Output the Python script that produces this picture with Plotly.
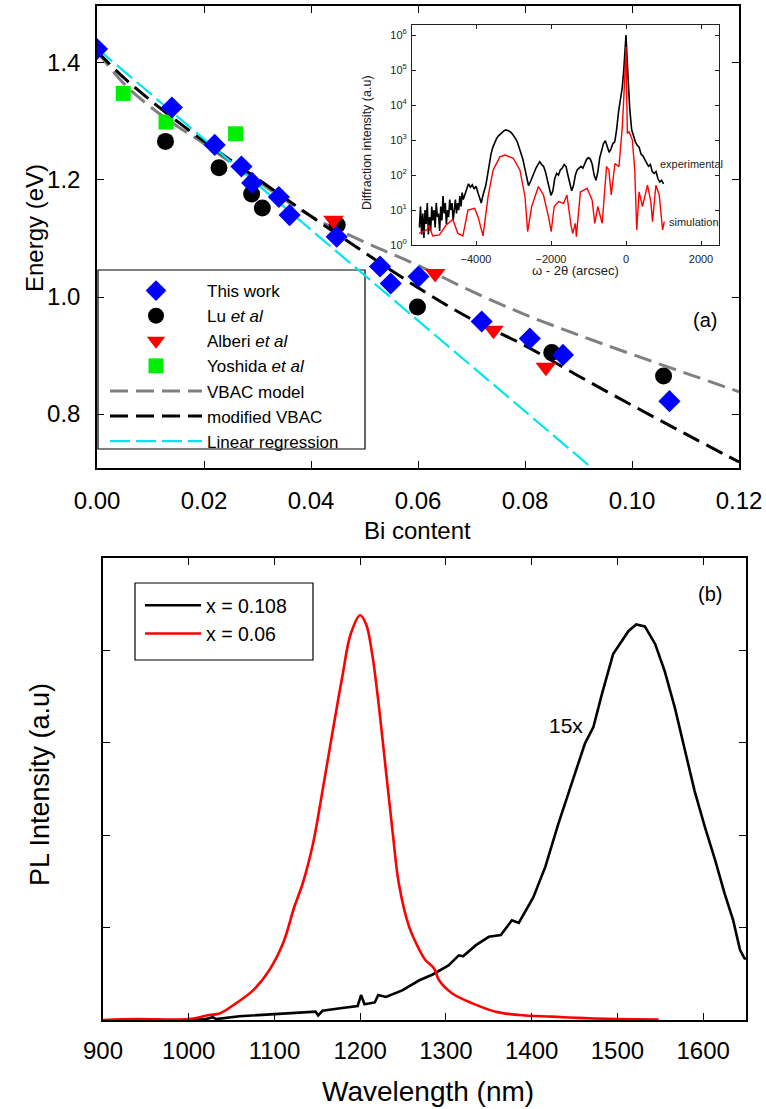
import plotly.graph_objects as go

W, H = 766, 1109
FONT = "Liberation Sans, Arial, Helvetica, sans-serif"

# ---------------- Panel (a): band gap vs Bi content ----------------
this_x = [0.000, 0.014, 0.022, 0.027, 0.029, 0.034, 0.036, 0.0448, 0.0529, 0.0549, 0.0601, 0.0719, 0.0809, 0.0871, 0.1070]
this_y = [1.424, 1.324, 1.260, 1.223, 1.195, 1.171, 1.140, 1.103, 1.052, 1.023, 1.035, 0.958, 0.929, 0.901, 0.822]
lu_x = [0.0128, 0.0228, 0.0289, 0.0309, 0.0449, 0.0599, 0.0850, 0.1059]
lu_y = [1.266, 1.221, 1.176, 1.152, 1.123, 0.983, 0.905, 0.865]
alb_x = [0.0442, 0.0632, 0.0741, 0.0839]
alb_y = [1.131, 1.040, 0.943, 0.880]
yos_x = [0.0049, 0.0129, 0.0259]
yos_y = [1.348, 1.299, 1.279]

vbac_x = [0.0, 0.005, 0.01, 0.015, 0.02, 0.03, 0.04, 0.05, 0.06, 0.07, 0.08, 0.09, 0.10, 0.11, 0.12]
vbac_y = [1.420, 1.365, 1.325, 1.292, 1.262, 1.198, 1.138, 1.094, 1.054, 1.010, 0.970, 0.935, 0.902, 0.870, 0.838]
mvbac_x = [0.0, 0.005, 0.01, 0.02, 0.03, 0.04, 0.05, 0.06, 0.07, 0.08, 0.09, 0.10, 0.11, 0.12]
mvbac_y = [1.420, 1.375, 1.336, 1.266, 1.202, 1.138, 1.076, 1.016, 0.962, 0.917, 0.865, 0.815, 0.766, 0.718]
lin_x = [0.0, 0.0925]
lin_y = [1.425, 0.7077]

a_xticks = [0.00, 0.02, 0.04, 0.06, 0.08, 0.10, 0.12]
a_yticks = [0.8, 1.0, 1.2, 1.4]

# ---------------- Inset: XRD rocking curve (log10 of intensity) ----------------
exp_x = [-5510, -5480, -5450, -5420, -5390, -5360, -5330, -5300, -5270, -5240, -5210, -5180, -5150, -5120,
         -5090, -5060, -5030, -5000, -4970, -4940, -4910, -4880, -4850, -4820, -4790, -4760, -4730, -4700,
         -4670, -4640, -4610, -4580, -4550, -4520, -4490, -4460, -4430, -4400, -4370, -4340,
         -4300, -4250, -4200, -4150, -4100, -4050, -4000, -3950, -3900, -3860, -3820, -3780, -3740, -3700,
         -3650, -3600, -3550, -3500, -3450, -3400, -3350, -3300, -3250, -3200, -3150, -3100, -3050, -3000,
         -2950, -2900, -2850, -2800, -2750, -2700, -2650, -2600, -2560, -2500, -2450, -2400, -2350, -2300,
         -2250, -2200, -2150, -2100, -2050, -2000, -1950, -1900, -1850, -1800, -1750, -1700, -1650, -1600,
         -1550, -1500, -1450, -1400, -1350, -1300, -1250, -1200, -1150, -1100, -1050, -1000, -950, -900,
         -850, -800, -750, -700, -650, -600, -550, -500, -450, -400, -350, -300, -250, -200, -150, -100,
         -60, -30, 0, 30, 60, 100, 150, 200, 250, 300, 350, 400, 450, 500, 550, 600, 650, 700, 750, 800,
         850, 900, 950, 1000]
exp_log = [0.5, 1.1, 0.3, 0.9, 0.2, 1.0, 0.6, 1.2, 0.3, 0.8, 0.4, 1.1, 0.7, 1.0,
           0.5, 1.2, 0.8, 0.9, 0.4, 1.1, 0.7, 1.4, 0.9, 1.2, 0.6, 1.0, 0.8, 1.3,
           1.0, 1.2, 0.7, 1.1, 1.3, 0.9, 1.2, 1.0, 1.4, 1.1, 1.5, 1.3,
           1.45, 1.6, 1.75, 1.65, 1.72, 1.6, 1.68, 1.5, 1.35, 1.2, 1.4, 1.55, 1.7, 1.95,
           2.3, 2.6, 2.8, 2.95, 3.05, 3.12, 3.18, 3.24, 3.27, 3.29, 3.28, 3.25, 3.2, 3.14,
           3.05, 2.95, 2.8, 2.65, 2.45, 2.2, 1.95, 1.7, 1.78, 1.95, 2.1, 2.2, 2.3, 2.38,
           2.3, 2.25, 2.1, 1.85, 1.6, 1.42, 1.55, 1.9, 2.05, 2.0, 2.15, 2.2, 2.3, 2.25,
           2.0, 1.75, 1.55, 1.7, 2.0, 2.15, 2.2, 2.25, 2.2, 2.35, 2.45, 2.5, 2.45, 2.3,
           2.0, 1.85, 2.1, 2.5, 2.75, 2.9, 2.98, 2.8, 2.65, 2.75, 2.9, 2.95, 3.3, 3.8, 4.1, 4.5,
           5.0, 5.5, 6.0, 5.3, 4.6, 3.9, 3.3, 3.1, 2.95, 2.85, 2.8, 2.6, 2.55, 2.45, 2.35, 2.25, 2.3, 2.1, 2.05, 2.1,
           1.9, 1.8, 1.85, 1.75]
sim_x = [-5513, -5290, -5260, -5155, -4976, -4797, -4618, -4484, -4350, -4215, -4036, -3947, -3813, -3678,
         -3544, -3365, -3231, -3007, -2828, -2694, -2622, -2515, -2336, -2202, -2067, -1996, -1915, -1799,
         -1665, -1575, -1468, -1423, -1351, -1324, -1217, -1038, -904, -832, -752, -636, -519, -457, -394,
         -295, -188, -98, -36, 0, 36, 81, 170, 233, 286, 349, 439, 573, 662, 707, 797, 886, 976, 1020]
sim_log = [0.33, 0.45, 0.57, 0.26, 0.29, 0.57, 0.73, 0.33, 0.26, 1.0, 1.05, 0.81, 0.26, 1.38,
           2.14, 2.52, 2.57, 2.48, 2.14, 1.38, 0.38, 1.10, 1.67, 1.43, 0.81, 0.38, 1.10, 1.24,
           1.19, 1.43, 0.57, 0.33, 0.62, 0.24, 1.52, 1.62, 1.29, 0.62, 1.10, 0.62, 2.24, 2.14, 1.43,
           2.33, 2.24, 3.38, 4.71, 5.67, 3.19, 3.24, 3.0, 2.14, 0.43, 1.52, 1.10, 1.71, 1.24, 0.67, 1.71, 1.43, 0.43, 0.67]
inset_yticks = [1, 10, 100, 1000, 10000, 100000, 1000000]
inset_yticktext = ["10<sup>0</sup>", "10<sup>1</sup>", "10<sup>2</sup>", "10<sup>3</sup>",
                   "10<sup>4</sup>", "10<sup>5</sup>", "10<sup>6</sup>"]
inset_xticks = [-4000, -2000, 0, 2000]

# ---------------- Panel (b): PL spectra ----------------
red_x = [900, 940, 1000, 1024, 1036, 1055, 1075, 1094, 1110, 1123, 1133, 1145, 1156, 1168, 1179, 1189,
         1200, 1207, 1214, 1222, 1230, 1238, 1245, 1257, 1269, 1276, 1286, 1292, 1307, 1331, 1358, 1385,
         1424, 1462, 1501, 1548]
red_y = [0.0, 0.01, 0.01, 0.054, 0.07, 0.18, 0.32, 0.54, 0.83, 1.22, 1.48, 1.91, 2.48, 3.13, 3.71, 4.18,
         4.38, 4.28, 3.96, 3.38, 2.70, 2.02, 1.48, 1.01, 0.76, 0.65, 0.56, 0.43, 0.29, 0.18, 0.09, 0.054,
         0.036, 0.02, 0.01, 0.005]
blk_x = [1000, 1020, 1028, 1032, 1059, 1090, 1117, 1148, 1151, 1156, 1179, 1197, 1201, 1205, 1217, 1221,
         1230, 1249, 1269, 1284, 1303, 1315, 1320, 1335, 1350, 1364, 1377, 1385, 1402, 1416, 1431, 1447,
         1462, 1472, 1482, 1495, 1513, 1522, 1532, 1544, 1555, 1567, 1579, 1590, 1602, 1614, 1625, 1635,
         1643, 1648, 1650]
blk_y = [0.0, 0.01, 0.03, 0.01, 0.04, 0.06, 0.07, 0.09, 0.05, 0.10, 0.13, 0.15, 0.27, 0.17, 0.19, 0.27,
         0.25, 0.32, 0.43, 0.49, 0.59, 0.70, 0.69, 0.81, 0.90, 0.92, 1.08, 1.05, 1.33, 1.66, 2.12, 2.56,
         2.99, 3.17, 3.53, 3.96, 4.21, 4.28, 4.26, 4.07, 3.78, 3.38, 2.92, 2.48, 2.09, 1.73, 1.37, 1.08,
         0.76, 0.67, 0.66]
b_xticks = [900, 1000, 1100, 1200, 1300, 1400, 1500, 1600]
b_yticks = [1, 2, 3, 4]


def px_x(p):
    return p / W


def px_y(p):
    return 1 - p / H


fig = go.Figure()

# model / fit lines (drawn beneath markers)
fig.add_trace(go.Scatter(x=vbac_x, y=vbac_y, mode="lines", name="VBAC model", legendrank=5,
                         line=dict(color="#808080", width=3, dash="18px,8px", shape="spline"),
                         xaxis="x", yaxis="y"))
fig.add_trace(go.Scatter(x=mvbac_x, y=mvbac_y, mode="lines", name="modified VBAC", legendrank=6,
                         line=dict(color="black", width=3, dash="18px,8px", shape="spline"),
                         xaxis="x", yaxis="y"))
fig.add_trace(go.Scatter(x=lin_x, y=lin_y, mode="lines", name="Linear regression", legendrank=7,
                         line=dict(color="#00e5ee", width=2.2, dash="20px,6px"),
                         xaxis="x", yaxis="y"))
# data markers
fig.add_trace(go.Scatter(x=yos_x, y=yos_y, mode="markers", name="Yoshida <i>et al</i>", legendrank=4,
                         marker=dict(symbol="square", size=15, color="#00ee00"), xaxis="x", yaxis="y"))
fig.add_trace(go.Scatter(x=lu_x, y=lu_y, mode="markers", name="Lu <i>et al</i>", legendrank=2,
                         marker=dict(symbol="circle", size=17, color="black"), xaxis="x", yaxis="y"))
fig.add_trace(go.Scatter(x=alb_x, y=alb_y, mode="markers", name="Alberi <i>et al</i>", legendrank=3,
                         marker=dict(symbol="triangle-down", size=18, color="#ff0000"), xaxis="x", yaxis="y"))
fig.add_trace(go.Scatter(x=this_x, y=this_y, mode="markers", name="This work", legendrank=1,
                         marker=dict(symbol="diamond", size=17, color="#0000ff"), xaxis="x", yaxis="y"))

# inset
fig.add_trace(go.Scatter(x=exp_x, y=[10 ** v for v in exp_log], mode="lines", showlegend=False,
                         line=dict(color="black", width=1.6), xaxis="x3", yaxis="y3"))
fig.add_trace(go.Scatter(x=sim_x, y=[10 ** v for v in sim_log], mode="lines", showlegend=False,
                         line=dict(color="#ff0000", width=1.4), xaxis="x3", yaxis="y3"))

# panel b
fig.add_trace(go.Scatter(x=blk_x, y=blk_y, mode="lines", name="x = 0.108", legend="legend2",
                         line=dict(color="black", width=2.6), xaxis="x2", yaxis="y2"))
fig.add_trace(go.Scatter(x=red_x, y=red_y, mode="lines", name="x = 0.06", legend="legend2",
                         line=dict(color="#ff0000", width=2.6, shape="spline"), xaxis="x2", yaxis="y2"))

axis_common = dict(showline=True, linecolor="black", linewidth=1.5, mirror="ticks", ticks="inside",
                   ticklen=7, tickwidth=1.3, tickcolor="black", showgrid=False, zeroline=False,
                   automargin=False)
inset_common = dict(showline=True, linecolor="#222", linewidth=1, mirror="ticks", ticks="inside",
                    ticklen=4, tickcolor="#222", showgrid=False, zeroline=False, automargin=False,
                    tickfont=dict(size=11, color="#222"))

fig.update_layout(
    width=W, height=H, autosize=False,
    margin=dict(l=0, r=0, t=0, b=0, pad=0, autoexpand=False),
    paper_bgcolor="white", plot_bgcolor="rgba(0,0,0,0)",
    font=dict(family=FONT, color="black"),
    xaxis=dict(domain=[px_x(97), px_x(739)], anchor="y", range=[0, 0.12], tickvals=a_xticks,
               tickformat=".2f", tickfont=dict(size=24), ticklabelstandoff=10, **axis_common),
    yaxis=dict(domain=[px_y(468), px_y(6)], anchor="x", range=[0.7077, 1.4974], tickvals=a_yticks,
               tickformat=".1f", tickfont=dict(size=24), ticklabelstandoff=10, **axis_common),
    xaxis2=dict(domain=[px_x(103), px_x(746)], anchor="y2", range=[900, 1650], tickvals=b_xticks,
                tickfont=dict(size=24), ticklabelstandoff=8, **axis_common),
    yaxis2=dict(domain=[px_y(1020), px_y(558)], anchor="x2", range=[0, 5], tickvals=b_yticks,
                showticklabels=False, **axis_common),
    xaxis3=dict(domain=[px_x(412), px_x(719)], anchor="y3", range=[-5707, 2480], tickvals=inset_xticks,
                ticklabelstandoff=4, **inset_common),
    yaxis3=dict(domain=[px_y(245), px_y(25)], anchor="x3", type="log", range=[0, 6.29],
                tickvals=inset_yticks, ticktext=inset_yticktext, ticklabelstandoff=2, **inset_common),
    legend=dict(x=px_x(105), y=px_y(273), xanchor="left", yanchor="top", bgcolor="rgba(0,0,0,0)",
                borderwidth=0, font=dict(size=17), itemwidth=92, tracegroupgap=0, traceorder="normal"),
    legend2=dict(x=px_x(140), y=px_y(586), xanchor="left", yanchor="top", bgcolor="rgba(0,0,0,0)",
                 borderwidth=0, font=dict(size=19.5), itemwidth=56),
)

shapes = [
    # legend frames
    dict(type="rect", xref="paper", yref="paper", x0=px_x(98), x1=px_x(365), y0=px_y(449), y1=px_y(270),
         line=dict(color="black", width=1.2), fillcolor="white", layer="below"),
    dict(type="rect", xref="paper", yref="paper", x0=px_x(135), x1=px_x(313), y0=px_y(660), y1=px_y(583),
         line=dict(color="black", width=1.2), fillcolor="white", layer="below"),
]
fig.update_layout(shapes=shapes)

ann_paper = dict(xref="paper", yref="paper", xanchor="center", yanchor="middle", showarrow=False)
annotations = [
    dict(text="Energy (eV)", x=px_x(34), y=px_y(228), textangle=-90, font=dict(size=24), **ann_paper),
    dict(text="Bi content", x=px_x(417), y=px_y(530), font=dict(size=24), **ann_paper),
    dict(text="PL Intensity (a.u)", x=px_x(40), y=px_y(785), textangle=-90, font=dict(size=27), **ann_paper),
    dict(text="Wavelength (nm)", x=px_x(428), y=px_y(1091), font=dict(size=28), **ann_paper),
    dict(text="Diffraction intensity (a.u)", x=px_x(367), y=px_y(143), textangle=-90,
         font=dict(size=12.5, color="#222"), **ann_paper),
    dict(text="ω - 2θ (arcsec)", x=px_x(575), y=px_y(270), font=dict(size=13, color="#222"), **ann_paper),
    dict(text="(a)", x=0.1136, y=0.961, xref="x", yref="y", showarrow=False, font=dict(size=20)),
    dict(text="(b)", x=1608, y=4.61, xref="x2", yref="y2", showarrow=False, font=dict(size=20)),
    dict(text="15x", x=1440, y=3.19, xref="x2", yref="y2", showarrow=False, font=dict(size=21)),
    dict(text="experimental", x=853, y=2.31, xref="x3", yref="y3", xanchor="left", yanchor="middle",
         showarrow=False, font=dict(size=11, color="#222")),
    dict(text="simulation", x=1093, y=0.66, xref="x3", yref="y3", xanchor="left", yanchor="middle",
         showarrow=False, font=dict(size=11, color="#222")),
]
fig.update_layout(annotations=annotations)

fig.write_html("out.html")
